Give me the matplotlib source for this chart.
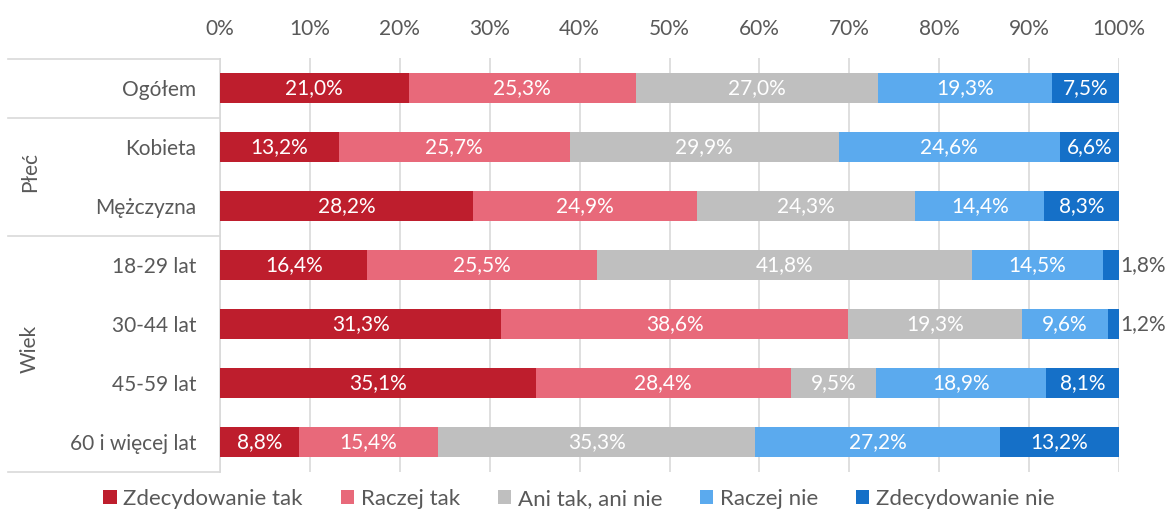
import numpy as np
import matplotlib.pyplot as plt
from matplotlib.transforms import blended_transform_factory
from matplotlib.lines import Line2D
from matplotlib.patches import Patch

plt.rcParams['font.family'] = ['Lato', 'DejaVu Sans']

categories = ['Ogółem', 'Kobieta', 'Mężczyzna', '18-29 lat', '30-44 lat', '45-59 lat', '60 i więcej lat']
series = ['Zdecydowanie tak', 'Raczej tak', 'Ani tak, ani nie', 'Raczej nie', 'Zdecydowanie nie']
values = np.array([
    [21.0, 25.3, 27.0, 19.3, 7.5],
    [13.2, 25.7, 29.9, 24.6, 6.6],
    [28.2, 24.9, 24.3, 14.4, 8.3],
    [16.4, 25.5, 41.8, 14.5, 1.8],
    [31.3, 38.6, 19.3, 9.6, 1.2],
    [35.1, 28.4, 9.5, 18.9, 8.1],
    [8.8, 15.4, 35.3, 27.2, 13.2],
])
groups = [('Płeć', 0.5, 2.5), ('Wiek', 2.5, 6.5)]
separators = [-0.5, 0.5, 2.5, 6.5]
colors = ['#BE1E2D', '#E8697A', '#BFBFBF', '#5BAAEE', '#1570C8']
text_gray = '#595959'
fs = 15

fig = plt.figure(figsize=(11.72, 5.11), dpi=100)
ax = fig.add_axes([220 / 1172, 1 - 471.5 / 511, 899 / 1172, 413 / 511])

shares = values / values.sum(axis=1, keepdims=True)
y = np.arange(len(categories))
left = np.zeros(len(categories))
for j, name in enumerate(series):
    w = shares[:, j]
    ax.barh(y, w, left=left, height=0.51, color=colors[j], label=name, zorder=3)
    for i in range(len(categories)):
        lbl = f'{values[i, j]:.1f}%'.replace('.', ',')
        if w[i] < 0.03:
            ax.text(left[i] + w[i] + 0.001, y[i], lbl, ha='left', va='center',
                    color=text_gray, fontsize=fs)
        else:
            ax.text(left[i] + w[i] / 2, y[i], lbl, ha='center', va='center',
                    color='white', fontsize=fs)
    left += w

ax.set_xlim(0, 1)
ax.set_ylim(6.5, -0.5)
ax.set_yticks(y)
ax.set_yticklabels(categories, fontsize=fs, color=text_gray)
ax.set_xticks(np.linspace(0, 1, 11))
ax.set_xticklabels([f'{int(t)}%' for t in np.linspace(0, 100, 11)], fontsize=fs, color=text_gray)
ax.xaxis.tick_top()
ax.tick_params(axis='both', length=0)
ax.tick_params(axis='x', pad=14)
ax.tick_params(axis='y', pad=17)
ax.grid(axis='x', color='#D9D9D9', linewidth=1.2, zorder=0)
for s in ['top', 'right', 'bottom']:
    ax.spines[s].set_visible(False)
ax.spines['left'].set_color('#D9D9D9')
ax.spines['left'].set_linewidth(1.2)

trans = blended_transform_factory(fig.transFigure, ax.transData)
for s in separators:
    fig.add_artist(Line2D([8 / 1172, 220 / 1172], [s, s], transform=trans,
                          color='#D9D9D9', linewidth=1.2))
for name, a, b in groups:
    fig.text(30 / 1172, (a + b) / 2 - 0.08, name, transform=trans, rotation=90,
             ha='center', va='center', fontsize=fs, color=text_gray)

handles = [Patch(facecolor=c, label=n) for c, n in zip(colors, series)]
fig.legend(handles=handles, loc='lower center', bbox_to_anchor=(0.494, -0.035), ncol=5,
           frameon=False, fontsize=16, handlelength=0.6, handleheight=0.6,
           handletextpad=0.3, columnspacing=1.7, labelcolor=text_gray)

fig.savefig('out.png', dpi=100)
